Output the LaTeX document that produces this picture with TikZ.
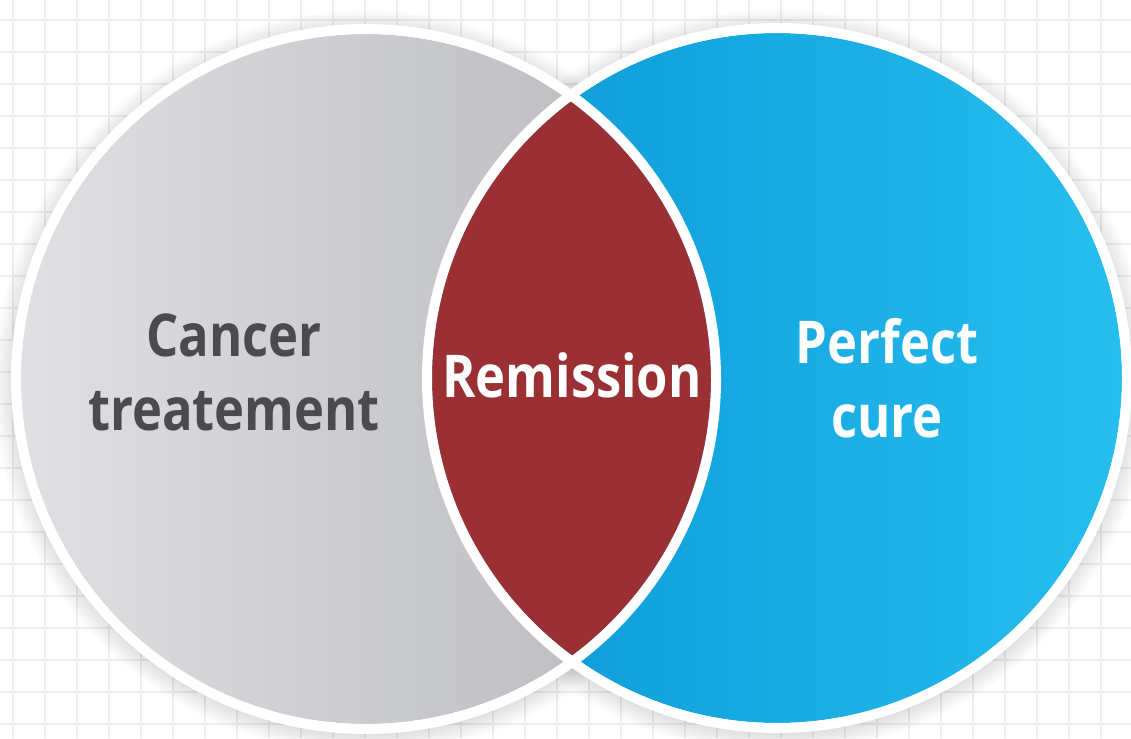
\documentclass[tikz,border=0pt]{standalone}
\usepackage{fontspec}
\setmainfont{Open Sans}[BoldFont={Open Sans Bold}]
\newfontfamily\labelfont{Open Sans Bold}[FakeStretch=0.86]
\definecolor{gridline}{HTML}{EEEEEE}
\definecolor{grayA}{HTML}{E0E0E2}
\definecolor{grayB}{HTML}{B6B7BB}
\definecolor{blueA}{HTML}{0A97D5}
\definecolor{blueB}{HTML}{26BEEF}
\definecolor{lensred}{HTML}{9A2F34}
\definecolor{darktext}{HTML}{4B4B4D}
\tikzset{
  vennlabel/.style={font=\labelfont\fontsize{59}{74}\selectfont, align=center, inner sep=0pt},
  ring/.style={draw=white, line width=10pt},
}
\begin{document}
\begin{tikzpicture}[x=1pt,y=-1pt]
  \useasboundingbox (0,0) rectangle (1131,738);
  \fill[white] (0,0) rectangle (1131,738);
  % graph-paper background
  \foreach \gx in {13,45,77,109,141,...,1131}
    \draw[gridline, line width=2pt] (\gx,0) -- (\gx,738);
  \foreach \gy in {20,52,84,...,738}
    \draw[gridline, line width=2pt] (0,\gy) -- (1131,\gy);
  % centres of the two sets
  \coordinate (cl) at (366,379);
  \coordinate (cr) at (777,378);
  % soft shadow under the rings
  \foreach \k in {0,2,...,22}{
    \fill[black, opacity=0.010] ([yshift=-3]cl) circle (350+\k);
    \fill[black, opacity=0.010] ([yshift=-3]cr) circle (350+\k);
  }
  % white halo so the shadow fades out from the border
  \fill[white] (cl) circle (352);
  \fill[white] (cr) circle (352);
  % set fills
  \shade[left color=grayA, right color=grayB] (cl) circle (345);
  \shade[left color=blueA, right color=blueB] (cr) circle (345);
  % overlap
  \begin{scope}
    \clip (cl) circle (345);
    \fill[lensred] (cr) circle (345);
  \end{scope}
  % white borders
  \draw[ring] (cl) circle (350);
  \draw[ring] (cr) circle (350);
  % labels
  \node[vennlabel, text=darktext] (cancer) at (234,372) {Cancer\\treatement};
  \node[vennlabel, text=white] (remission) at (572,375) {Remission};
  \node[vennlabel, text=white] (cure) at (887,378) {Perfect\\cure};
\end{tikzpicture}
\end{document}
